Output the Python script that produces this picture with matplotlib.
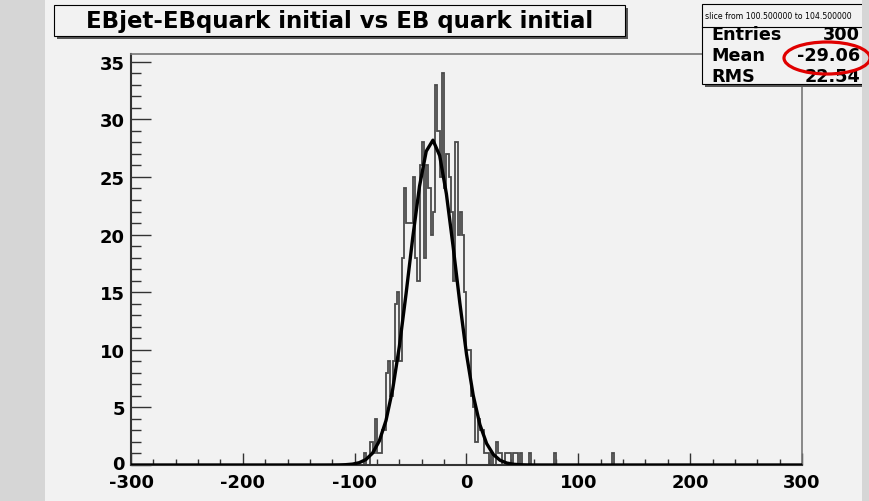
import numpy as np
import matplotlib
matplotlib.use("Agg")
import matplotlib.pyplot as plt
import matplotlib.transforms as mtransforms
from matplotlib.patches import Rectangle, Ellipse
from matplotlib.lines import Line2D

# ---------------- data ----------------
bin_width = 2
first_bin_low = -104
counts = [0, 0, 0, 0, 0, 0, 1, 0, 0, 2,      # -104 .. -86
          1, 4, 1, 1, 3, 3, 8, 9, 6, 9,      # -84 .. -66
          14, 15, 9, 18, 24, 21, 21, 21, 25, 18,  # -64 .. -46
          16, 26, 28, 18, 26, 24, 20, 22, 33, 29,  # -44 .. -26
          25, 34, 24, 27, 25, 22, 16, 28, 20, 22,  # -24 .. -6
          20, 15, 10, 10, 6, 5, 2, 4, 3, 3,        # -4 .. 14
          1, 1, 0, 1, 0, 2, 1, 1, 0, 1,            # 16 .. 34
          1, 1, 0, 1, 1, 0, 1, 0, 0, 0,            # 36 .. 54
          1, 0]                                    # 56 .. 58
extra_bin_lows = [78, 130]
extra_counts = [1, 1]

fit_amplitude = 28.2
fit_mean = -30.5
fit_sigma = 20.8

title_text = "EBjet-EBquark initial vs EB quark initial"
stats_header = "slice from 100.500000 to 104.500000"
stats_names = ["Entries", "Mean", "RMS"]
stats_values = ["300", "-29.06", "22.54"]
x_tick_values = [-300, -200, -100, 0, 100, 200, 300]
x_tick_labels = ["-300", "-200", "-100", "0", "100", "200", "300"]
y_tick_values = [0, 5, 10, 15, 20, 25, 30, 35]
y_tick_labels = ["0", "5", "10", "15", "20", "25", "30", "35"]
x_range = (-300, 300)
y_max = 35.67

# ---------------- style ----------------
plt.rcParams['font.family'] = ['DejaVu Sans']
plt.rcParams['font.weight'] = 'bold'
plt.rcParams['axes.unicode_minus'] = False

W, H = 870, 502
panel_col = '#f2f2f2'
strip_col = '#d6d6d6'

fig = plt.figure(figsize=(W / 100, H / 100), dpi=100)
fig.patch.set_facecolor(strip_col)


def rect(x0, y0, x1, y1, **kw):
    r = Rectangle((x0 / W, 1 - y1 / H), (x1 - x0) / W, (y1 - y0) / H,
                  transform=fig.transFigure, **kw)
    fig.add_artist(r)
    return r


def hline(x0, x1, y, **kw):
    fig.add_artist(Line2D([x0 / W, x1 / W], [1 - y / H, 1 - y / H],
                          transform=fig.transFigure, **kw))


# panel
rect(45, 0, 862, H, fc=panel_col, ec='none', zorder=-2)

# axes
ax = fig.add_axes([131 / W, 1 - 466 / H, 671 / W, 411 / H])
ax.set_facecolor(panel_col)

edges = np.arange(x_range[0], x_range[1] + bin_width, bin_width)
values = np.zeros(len(edges) - 1)
for i, c in enumerate(counts):
    values[(first_bin_low + i * bin_width - x_range[0]) // bin_width] = c
for lo, c in zip(extra_bin_lows, extra_counts):
    values[(lo - x_range[0]) // bin_width] = c

ax.stairs(values, edges, color='#4a4a4a', lw=1.3, zorder=2)

xf = np.linspace(x_range[0], x_range[1], 101)
yf = fit_amplitude * np.exp(-0.5 * ((xf - fit_mean) / fit_sigma) ** 2)
ax.plot(xf, yf, color='black', lw=2.4, zorder=3)

ax.set_xlim(*x_range)
ax.set_ylim(0, y_max)

for s in ['left', 'bottom']:
    ax.spines[s].set_color('#333333')
    ax.spines[s].set_linewidth(1.5)
for s in ['top', 'right']:
    ax.spines[s].set_color('#777777')
    ax.spines[s].set_linewidth(1.2)

ax.set_xticks(x_tick_values, x_tick_labels)
ax.set_xticks(np.arange(x_range[0], x_range[1] + 1, 20), minor=True)
ax.set_yticks(y_tick_values, y_tick_labels)
ax.set_yticks(np.arange(0, 36, 1), minor=True)

ax.tick_params(axis='x', which='major', direction='in', length=8.6, width=1.0,
               color='#333333', labelsize=13, pad=5.5, top=False)
ax.tick_params(axis='x', which='minor', direction='in', length=4.3, width=1.0,
               color='#333333', top=False)
ax.tick_params(axis='y', which='major', direction='in', length=14.4, width=1.0,
               color='#333333', labelsize=13, pad=4.3, right=False)
ax.tick_params(axis='y', which='minor', direction='in', length=7.2, width=1.0,
               color='#333333', right=False)
for lab in ax.get_xticklabels() + ax.get_yticklabels():
    lab.set_fontweight('bold')

# nudge the "0" y label up slightly so it clears the "-300" x label
zero_lab = ax.get_yticklabels()[0]
zero_lab.set_transform(zero_lab.get_transform() +
                       mtransforms.ScaledTranslation(0, 3 / 100, fig.dpi_scale_trans))

# title box with shadow
rect(57, 9, 628, 40, fc='#555555', ec='none', zorder=3)
rect(54, 6, 625, 37, fc=panel_col, ec='black', lw=0.8, zorder=3.1)
fig.text(340 / W, 1 - 21.5 / H, title_text, ha='center', va='center',
         fontsize=16.5, fontweight='bold', zorder=3.2)

# stats box
rect(705, 8, 890, 88, fc='#555555', ec='none', zorder=3)
rect(702, 5, 887, 85, fc=panel_col, ec='black', lw=0.8, zorder=3.1)
hline(702, 887, 28, color='black', lw=0.8, zorder=3.2)
fig.text(705 / W, 1 - 16.5 / H, stats_header, ha='left', va='center',
         fontsize=5.6, fontweight='normal', zorder=3.3)
row_y = [35, 56, 77]
for name, val, yy in zip(stats_names, stats_values, row_y):
    fig.text(711 / W, 1 - yy / H, name, ha='left', va='center',
             fontsize=12.7, fontweight='bold', zorder=3.3)
    fig.text(860 / W, 1 - yy / H, val, ha='right', va='center',
             fontsize=12.7, fontweight='bold', zorder=3.3)

# right strip covering the box edge
rect(862, 0, W + 2, H, fc=strip_col, ec='none', zorder=5)

# red annotation ellipse
fig.add_artist(Ellipse((827 / W, 1 - 59 / H), 86 / W, 32 / H,
                       transform=fig.transFigure, fill=False,
                       ec='#e00000', lw=2.3, zorder=6))

fig.savefig('out.png', dpi=100, facecolor=fig.get_facecolor())
